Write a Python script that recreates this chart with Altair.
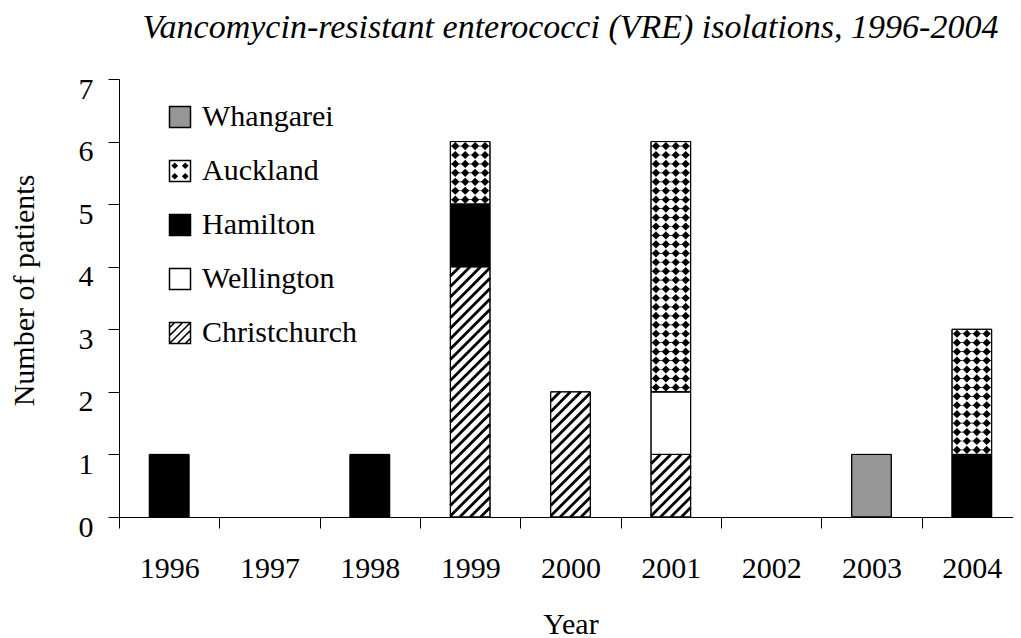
import math
import altair as alt
import pandas as pd

# ---------------- data ----------------
years = ["1996", "1997", "1998", "1999", "2000", "2001", "2002", "2003", "2004"]
regions = ["Whangarei", "Auckland", "Hamilton", "Wellington", "Christchurch"]  # legend order
whangarei = [0, 0, 0, 0, 0, 0, 0, 1, 0]
auckland = [0, 0, 0, 1, 0, 4, 0, 0, 2]
hamilton = [1, 0, 1, 1, 0, 0, 0, 0, 1]
wellington = [0, 0, 0, 0, 0, 1, 0, 0, 0]
christchurch = [0, 0, 0, 4, 2, 1, 0, 0, 0]
y_ticks = [0, 1, 2, 3, 4, 5, 6, 7]

counts = {
    "Whangarei": whangarei,
    "Auckland": auckland,
    "Hamilton": hamilton,
    "Wellington": wellington,
    "Christchurch": christchurch,
}
fill_range = ["#969696", "white", "black", "white", "white"]
fill_of = dict(zip(regions, fill_range))
stack_order = list(reversed(regions))  # bottom of stack first

seg_rows, unit_rows = [], []
for i, yr in enumerate(years):
    base = 0
    for r in stack_order:
        n = counts[r][i]
        if n > 0:
            seg_rows.append(dict(Year=yr, Region=r, y0=base, y1=base + n, fillc=fill_of[r]))
            for k in range(n):
                unit_rows.append(dict(Year=yr, Region=r, yc=base + k + 0.5))
            base += n
segs = pd.DataFrame(seg_rows)
units = pd.DataFrame(unit_rows)

# ---------------- geometry / styles ----------------
PLOT_W = 903
PLOT_H = 438
BAR_FRAC = 0.395
FONT = "Liberation Serif"

step = PLOT_W / len(years)
bar_w = step * BAR_FRAC
unit_h = PLOT_H / (len(y_ticks) - 1)
kk = unit_h / 2.0           # custom symbol scale (sqrt(size)/2)
tile_size = unit_h ** 2


def f(v):
    return f"{v:.4f}"


def hatch_path(W, H, d, k):
    parts = []
    cmin, cmax = -(W + H) / 2, (W + H) / 2
    for n in range(math.ceil(cmin / d), math.floor(cmax / d) + 1):
        c = n * d
        xa = max(-W / 2, c - H / 2)
        xb = min(W / 2, c + H / 2)
        if xb - xa < 0.3:
            continue
        parts.append(f"M{f(xa / k)},{f((c - xa) / k)}L{f(xb / k)},{f((c - xb) / k)}")
    return "".join(parts)


def dots_path(W, H, k, ncol=4, nrow=7, r=4.1, lh=0.35):
    dx, dy = W / ncol, H / nrow
    parts = []
    for j in range(nrow):
        cy = -H / 2 + dy * (j + 0.5)
        for i in range(ncol):
            cx = -W / 2 + dx * (i + 0.5)
            parts.append(
                f"M{f(cx / k)},{f((cy - r) / k)}L{f((cx + r) / k)},{f(cy / k)}"
                f"L{f(cx / k)},{f((cy + r) / k)}L{f((cx - r) / k)},{f(cy / k)}Z"
            )
        x1, x2 = -W / 2, W / 2
        parts.append(
            f"M{f(x1 / k)},{f((cy - lh) / k)}L{f(x2 / k)},{f((cy - lh) / k)}"
            f"L{f(x2 / k)},{f((cy + lh) / k)}L{f(x1 / k)},{f((cy + lh) / k)}Z"
        )
    return "".join(parts)


SQ = "M-1,-1L1,-1L1,1L-1,1Z"


def legend_hatch():
    p = SQ
    for c in (-1.5, -0.75, 0.0, 0.75, 1.5):
        xa, xb = max(-1, c - 1), min(1, c + 1)
        if xb - xa < 0.05:
            continue
        p += f"M{f(xa)},{f(c - xa)}L{f(xb)},{f(c - xb)}"
    return p


def legend_dots():
    p = SQ
    r = 0.22
    for cx in (-0.5, 0.5):
        for cy in (-0.5, 0.5):
            p += (f"M{f(cx)},{f(cy - r)}L{f(cx + r)},{f(cy)}L{f(cx)},{f(cy + r)}"
                  f"L{f(cx - r)},{f(cy)}Z")
            p += f"M{f(cx - r)},{f(cy)}L{f(cx + r)},{f(cy)}M{f(cx)},{f(cy - r)}L{f(cx)},{f(cy + r)}"
    return p


shape_range = [SQ, legend_dots(), SQ, SQ, legend_hatch()]

HATCH = hatch_path(bar_w, unit_h, unit_h / 6.0, kk)
DOTS = dots_path(bar_w, unit_h, kk)

x_enc = alt.X(
    "Year:N",
    scale=alt.Scale(domain=years, paddingInner=0, paddingOuter=0),
    axis=alt.Axis(
        title="Year",
        labelAngle=0,
        labelFont=FONT,
        labelFontSize=30,
        labelColor="black",
        labelPadding=25,
        tickBand="extent",
        tickSize=11,
        tickColor="black",
        domainColor="black",
        titleFont=FONT,
        titleFontSize=30,
        titleFontWeight="normal",
        titleColor="black",
        titleBaseline="alphabetic",
        titleY=116,
    ),
)
y_scale = alt.Scale(domain=[0, 7], nice=False)
y_axis = alt.Axis(
    title="Number of patients",
    values=y_ticks,
    format="d",
    grid=False,
    labelFont=FONT,
    labelFontSize=30,
    labelColor="black",
    labelPadding=15,
    labelBaseline="middle",
    labelOffset=10,
    tickSize=11,
    tickColor="black",
    domainColor="black",
    titleFont=FONT,
    titleFontSize=30,
    titleFontWeight="normal",
    titleColor="black",
    titleAngle=-90,
    titleBaseline="alphabetic",
    titleAlign="center",
    titleX=-86,
    titleY=211,
)

fill_scale = alt.Scale(domain=regions, range=fill_range)

bars = alt.Chart(segs).mark_bar(
    width=alt.RelativeBandSize(BAR_FRAC), stroke="black", strokeWidth=1
).encode(
    x=x_enc,
    y=alt.Y("y0:Q", scale=y_scale, axis=y_axis),
    y2="y1:Q",
    fill=alt.Fill("fillc:N", scale=None),
)

hatch = alt.Chart(units).transform_filter(
    alt.datum.Region == "Christchurch"
).mark_point(
    shape=HATCH, size=tile_size, filled=False, stroke="black", strokeWidth=2.8, opacity=1
).encode(x=alt.X("Year:N"), y=alt.Y("yc:Q"))

dots = alt.Chart(units).transform_filter(
    alt.datum.Region == "Auckland"
).mark_point(
    shape=DOTS, size=tile_size, filled=True, fill="black", strokeWidth=0, opacity=1
).encode(x=alt.X("Year:N"), y=alt.Y("yc:Q"))

outline = alt.Chart(segs).mark_bar(
    width=alt.RelativeBandSize(BAR_FRAC), fill="transparent", stroke="black", strokeWidth=1
).encode(x=alt.X("Year:N"), y=alt.Y("y0:Q"), y2="y1:Q")

legend_params = dict(
    title=None,
    orient="none",
    legendX=46,
    legendY=23,
    symbolSize=441,
    symbolStrokeColor="black",
    symbolStrokeWidth=1.5,
    symbolOpacity=1,
    labelFont=FONT,
    labelFontSize=30,
    labelColor="black",
    labelOffset=7,
    rowPadding=24,
    padding=0,
)

legend_layer = alt.Chart(segs).mark_point(
    filled=True, opacity=0, stroke="black", strokeWidth=1.5
).encode(
    x=alt.X("Year:N"),
    y=alt.Y("y1:Q"),
    fill=alt.Fill("Region:N", scale=fill_scale, legend=alt.Legend(**legend_params)),
    shape=alt.Shape(
        "Region:N",
        scale=alt.Scale(domain=regions, range=shape_range),
        legend=alt.Legend(**legend_params),
    ),
)

chart = alt.layer(bars, hatch, dots, outline, legend_layer).properties(
    width=PLOT_W,
    height=PLOT_H,
    background="white",
    title=alt.TitleParams(
        "Vancomycin-resistant enterococci (VRE) isolations, 1996-2004",
        font=FONT,
        fontSize=34,
        fontStyle="italic",
        fontWeight="normal",
        color="black",
        anchor="middle",
        frame="group",
        baseline="alphabetic",
        offset=2,
    ),
    padding={"left": 111, "top": 71, "right": -9, "bottom": 121},
    autosize=alt.AutoSizeParams(type="none"),
).configure_view(stroke=None).configure_legend(symbolOpacity=1)

chart.save("out.html", embed_options={"renderer": "svg", "actions": False})
